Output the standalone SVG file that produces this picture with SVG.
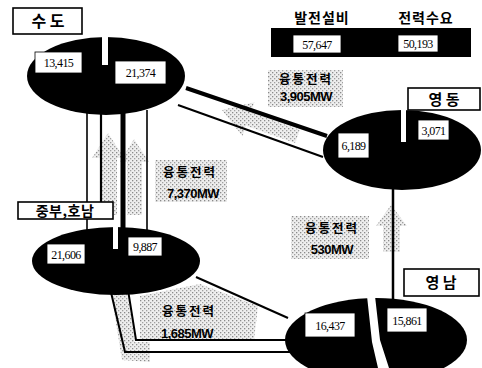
<svg xmlns="http://www.w3.org/2000/svg" width="482" height="368" viewBox="0 0 482 368">
<defs>
<pattern id="ht" width="4" height="4" patternUnits="userSpaceOnUse">
<rect width="4" height="4" fill="#eeeeee"/>
<rect x="0" y="0" width="1.3" height="1.3" fill="#8a8a8a"/>
<rect x="2" y="2" width="1.3" height="1.3" fill="#a0a0a0"/>
</pattern>
<style>
.lbl{fill:#fff;stroke:#000;stroke-width:1.6}
.nb{fill:#fff;stroke:#000;stroke-width:0.8}
.pie{fill:#000}
.slit{fill:#fff}
.kr{font-family:"Noto Sans CJK KR","Noto Sans",sans-serif;font-weight:bold;fill:#000;text-anchor:middle}
.fk{font-size:12.5px;letter-spacing:2px}
.num{font-family:"Liberation Serif",serif;font-size:12px;fill:#000;text-anchor:middle;letter-spacing:-0.6px}
.mw{font-family:"Liberation Sans",sans-serif;font-weight:bold;font-size:13px;fill:#000;text-anchor:middle;letter-spacing:-0.5px}
.ln{stroke:#000;fill:none}
.gr{fill:url(#ht)}
</style>
</defs>

<g id="halftone">
<polygon class="gr" points="108,133 124,158 117,158 117,215 100,215 100,158 92,158"/>
<polygon class="gr" points="134,139 149,162 142,162 142,215 127,215 127,162 120,162"/>
<rect class="gr" x="155" y="160" width="72" height="42"/>
<rect class="gr" x="268" y="70" width="75" height="37"/>
<polygon class="gr" points="222,110 254.3,102.2 250.7,112.6 299.8,129.8 295.2,143 246.1,125.8 242.5,136.2"/>
<rect class="gr" x="291" y="216" width="78" height="43"/>
<polygon class="gr" points="391,205 407,226 400,226 400,252 383,252 383,226 376,226"/>
<polygon class="gr" points="140,296 200,284 258,306 254,340 140,340"/>
<polygon class="gr" points="111,292 127,292 135,342 150,342 150,362 122,360"/>
</g>

<g id="connectors">
<line class="ln" x1="87" y1="112" x2="87" y2="230" stroke-width="1.6"/>
<line class="ln" x1="101" y1="112" x2="101" y2="216" stroke-width="2.2"/>
<line class="ln" x1="123" y1="112" x2="123" y2="236" stroke-width="5"/>
<line class="ln" x1="147" y1="110" x2="147" y2="232" stroke-width="1.6"/>
<line class="ln" x1="186" y1="88" x2="327" y2="136" stroke-width="4"/>
<line class="ln" x1="178" y1="105" x2="323" y2="157" stroke-width="2"/>
<line class="ln" x1="393" y1="186" x2="393" y2="300" stroke-width="2.5"/>
<line class="ln" x1="196" y1="277" x2="288" y2="318" stroke-width="2"/>
<polyline class="ln" points="110,288 125,352 290,352" stroke-width="2"/>
<polyline class="ln" points="128,290 136,340 290,340" stroke-width="2"/>
</g>

<g id="sudo">
<rect class="lbl" x="13" y="8" width="69" height="26"/>
<text class="kr" x="48" y="27" font-size="16">수 도</text>
<ellipse class="pie" cx="106" cy="76" rx="79" ry="39"/>
<rect class="slit" x="102" y="34" width="6" height="31"/>
<rect class="nb" x="35" y="52" width="47" height="21"/>
<text class="num" x="58.5" y="67">13,415</text>
<rect class="nb" x="115" y="61" width="51" height="23"/>
<text class="num" x="140.5" y="77">21,374</text>
</g>

<g id="header">
<text class="kr" x="322" y="23" font-size="14" letter-spacing="1">발전설비</text>
<text class="kr" x="426" y="23" font-size="14" letter-spacing="1">전력수요</text>
<rect x="271" y="28" width="200" height="29" fill="#000"/>
<rect class="nb" x="293" y="35" width="48" height="18"/>
<text class="num" x="317" y="48.5">57,647</text>
<rect class="nb" x="398" y="35" width="40" height="17"/>
<text class="num" x="418" y="48">50,193</text>
</g>

<g id="yeongdong">
<rect class="lbl" x="408" y="88" width="72" height="22"/>
<text class="kr" x="444" y="105" font-size="15">영 동</text>
<ellipse class="pie" cx="402" cy="150" rx="79" ry="40"/>
<rect class="slit" x="401" y="106" width="5" height="36"/>
<rect class="nb" x="338" y="133" width="31" height="25"/>
<text class="num" x="353.5" y="150">6,189</text>
<rect class="nb" x="418" y="120" width="31" height="20"/>
<text class="num" x="433.5" y="134.5">3,071</text>
</g>

<g id="jungbu">
<ellipse class="pie" cx="116" cy="261" rx="84" ry="34"/>
<rect class="slit" x="113" y="218" width="5" height="31"/>
<rect class="lbl" x="18" y="202" width="95" height="17"/>
<text class="kr" x="65" y="216" font-size="14" letter-spacing="0.5">중부,호남</text>
<rect class="nb" x="47" y="244" width="38" height="20"/>
<text class="num" x="66" y="258.5">21,606</text>
<rect class="nb" x="128" y="237" width="34" height="19"/>
<text class="num" x="145" y="251">9,887</text>
</g>

<g id="yeongnam">
<rect class="lbl" x="404" y="269" width="75" height="27"/>
<text class="kr" x="441" y="288" font-size="15">영 남</text>
<ellipse class="pie" cx="376" cy="340" rx="91" ry="42"/>
<polygon class="slit" points="367,296 375,296 380,340 389,368 378,368 372,342"/>
<rect class="nb" x="305" y="313" width="50" height="24"/>
<text class="num" x="330" y="330">16,437</text>
<rect class="nb" x="387" y="308" width="40" height="24"/>
<text class="num" x="407" y="325">15,861</text>
</g>

<g id="flow-labels">
<text class="kr fk" x="306" y="84">융통전력</text>
<text class="mw" x="306" y="100.5">3,905MW</text>
<text class="kr fk" x="190" y="177">융통전력</text>
<text class="mw" x="193" y="198">7,370MW</text>
<text class="kr fk" x="332" y="233">융통전력</text>
<text class="mw" x="332" y="254">530MW</text>
<text class="kr fk" x="189" y="316">융통전력</text>
<text class="mw" x="187" y="338">1,685MW</text>
</g>
</svg>
